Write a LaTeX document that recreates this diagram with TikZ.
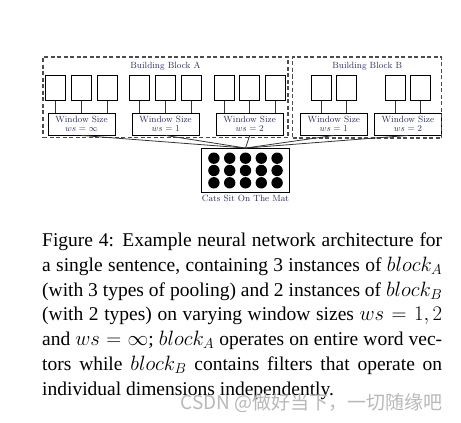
\documentclass[tikz,border=0pt]{standalone}
\usepackage{amsmath}
\usepackage{fontspec}
\newfontfamily\capfont{Liberation Serif}
\newfontfamily\cjkfont{Noto Sans CJK SC}
\usetikzlibrary{positioning}
\definecolor{labelblue}{RGB}{45,45,95}

\begin{document}
\begin{tikzpicture}[
    x=1pt, y=1pt,
    every node/.style={font=\fontsize{9}{9.5}\selectfont, text=labelblue},
    block/.style={rectangle, draw=black!70, dash pattern=on 4pt off 2.5pt, line width=1.1pt, inner sep=0pt},
    filt/.style={rectangle, draw, line width=0.8pt, minimum width=20pt, minimum height=25pt, inner sep=0pt},
    pool/.style={rectangle, draw, line width=0.9pt, minimum width=67pt, minimum height=22pt, inner sep=1pt, align=center},
    link/.style={draw=black!80, line width=0.8pt}
]
\useasboundingbox (0,0) rectangle (461,-423);
% Pooling boxes
\node[pool] (wsA1) at (81.5,-124) {Window Size\\$ws=\infty$};
\node[pool, right=16.2pt of wsA1] (wsA2) {Window Size\\$ws=1$};
\node[pool, right=16.2pt of wsA2] (wsA3) {Window Size\\$ws=2$};
\node[pool, right=16.2pt of wsA3] (wsB1) {Window Size\\$ws=1$};
\node[pool, right=6.2pt of wsB1] (wsB2) {Window Size\\$ws=2$};
% Filters above each pooling box
\foreach \p in {A1,A2,A3} {
  \foreach \k/\d in {a/-25.8, b/0, c/25.8} {
    \node[filt, above=11.3pt of ws\p, xshift=\d pt] (sq\p\k) {};
    \draw[link] (sq\p\k.south) -- (sq\p\k.south |- ws\p.north);
  }
}
\foreach \p in {B1,B2} {
  \foreach \k/\d in {a/-12.9, b/12.9} {
    \node[filt, above=11.3pt of ws\p, xshift=\d pt] (sq\p\k) {};
    \draw[link] (sq\p\k.south) -- (sq\p\k.south |- ws\p.north);
  }
}
% Building blocks
\node[block, minimum width=245pt, minimum height=80.5pt] (blockA) at (165.5,-97.25) {};
\node[block, minimum width=149pt, minimum height=81pt] (blockB) at (367.2,-97.5) {};
\node[anchor=north, inner sep=0pt] (labelA) at ([yshift=-5.6pt]blockA.north) {Building Block A};
\node[anchor=north, inner sep=0pt] (labelB) at ([yshift=-5.6pt]blockB.north) {Building Block B};
% Sentence matrix
\node[draw, line width=0.9pt, minimum width=87.6pt, minimum height=44pt, inner sep=0pt] (mat) at (245.5,-170.5) {};
\foreach \i in {-2,...,2}
  \foreach \j in {-1,0,1}
    \fill ([shift={(\i*15.8,\j*12.3)}]mat.center) circle (5.7pt);
\node[anchor=north, inner sep=0pt] (matlabel) at ([yshift=-2pt]mat.south) {Cats Sit On The Mat};
% Links into the sentence
\foreach \w in {wsA1,wsA2,wsA3,wsB1,wsB2}
  \draw[link] (\w.south) -- (mat.north);
% Caption
\node[anchor=north west, inner sep=0pt, text width=400pt, align=justify, text=black,
      font=\capfont\fontsize{19.5}{24.8}\selectfont] (caption) at (42,-232.5)
  {Figure 4: Example neural network architecture for\linebreak
   a single sentence, containing 3 instances of $block_A$\linebreak
   (with 3 types of pooling) and 2 instances of $block_B$\linebreak
   (with 2 types) on varying window sizes $ws=1,2$\linebreak
   and $ws=\infty$; $block_A$ operates on entire word vec-\linebreak
   tors while $block_B$ contains filters that operate on\linebreak
   individual dimensions independently.};
\node[anchor=east, inner sep=0pt, text=black!28, font=\cjkfont\fontsize{19}{19}\selectfont] (mark) at (443,-403) {CSDN @做好当下，一切随缘吧};
\end{tikzpicture}
\end{document}
